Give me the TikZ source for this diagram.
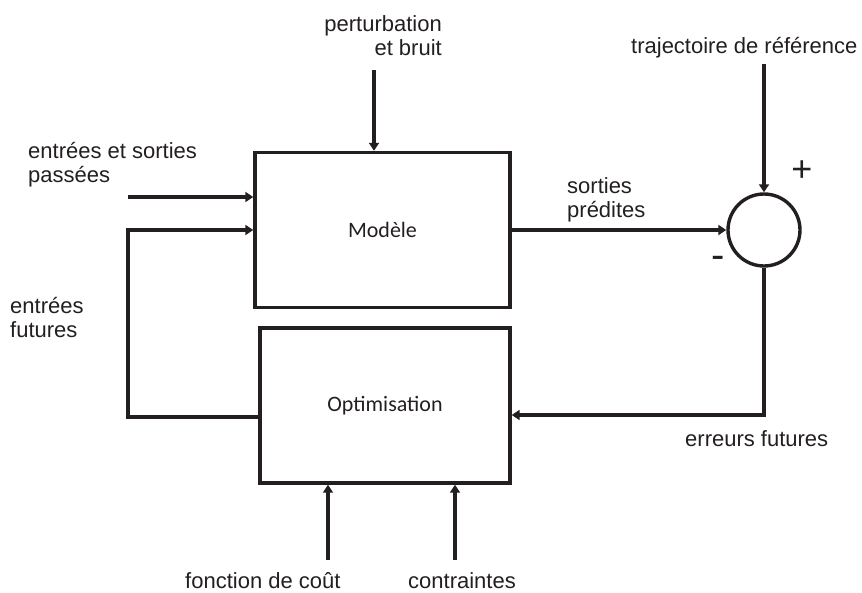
\documentclass[tikz,border=0pt]{standalone}
\usepackage{fontspec}
\setmainfont{Liberation Sans}
\newfontfamily\calib{Carlito}
\usetikzlibrary{arrows.meta}
\definecolor{dk}{RGB}{35,31,32}
\begin{document}
\begin{tikzpicture}[x=1pt,y=-1pt,
  every node/.style={text=dk, font=\fontsize{22}{24}\selectfont, inner sep=0pt},
  blk/.style={draw=dk, line width=3.4pt, rectangle, font=\calib\fontsize{22}{24}\selectfont},
  sumc/.style={draw=dk, line width=3.4pt, circle, minimum size=72pt},
  conn/.style={draw=dk, line width=3.4pt},
  arr/.style={conn, -{Triangle[length=8pt,width=10pt]}},
  lbl/.style={align=left, anchor=base west},
]
\useasboundingbox (0,0) rectangle (862,592);
\node[blk, minimum width=255pt, minimum height=155pt] (model) at (382.5,230) {Modèle};
\node[blk, minimum width=250pt, minimum height=155pt] (opt) at (385,405.5) {Optimisation};
\node[sumc] (sum) at (764,230) {};

\node[anchor=base east, align=right] (lpert) at (442,55) {perturbation\\et bruit};
\node[lbl] (lpast) at (28,182) {entrées et sorties\\passées};
\node[lbl] (lfut) at (10,337) {entrées\\futures};
\node[lbl] (lpred) at (567,217) {sorties\\prédites};
\node[anchor=base west] (lref) at (631,53) {trajectoire de référence};
\node[anchor=base west] (lerr) at (685,446) {erreurs futures};
\node[anchor=base west] (lcost) at (185,588) {fonction de coût};
\node[anchor=base west] (lcons) at (408,588) {contraintes};
\node[anchor=base, font=\fontsize{36}{38}\selectfont] (plus) at (802,181) {+};
\node[anchor=base, font=\fontsize{40}{40}\selectfont] (minus) at (718,268) {-};

\coordinate (pin) at (374,70);
\draw[arr] (pin) -- (pin |- model.north);
\coordinate (in1) at (128,197);
\draw[arr] (in1) -- (in1 -| model.west);
\coordinate (fb) at (128,417);
\draw[arr] (fb -| opt.west) -- (fb) |- (model.west);
\draw[arr] (model.east) -- (sum.west);
\coordinate (rin) at (764,64);
\draw[arr] (rin) -- (sum.north);
\coordinate (err) at (764,415);
\draw[arr] (sum.south) -- (err) -- (err -| opt.east);
\coordinate (c1) at (328,560);
\draw[arr] (c1) -- (c1 |- opt.south);
\coordinate (c2) at (455,560);
\draw[arr] (c2) -- (c2 |- opt.south);
\end{tikzpicture}
\end{document}
